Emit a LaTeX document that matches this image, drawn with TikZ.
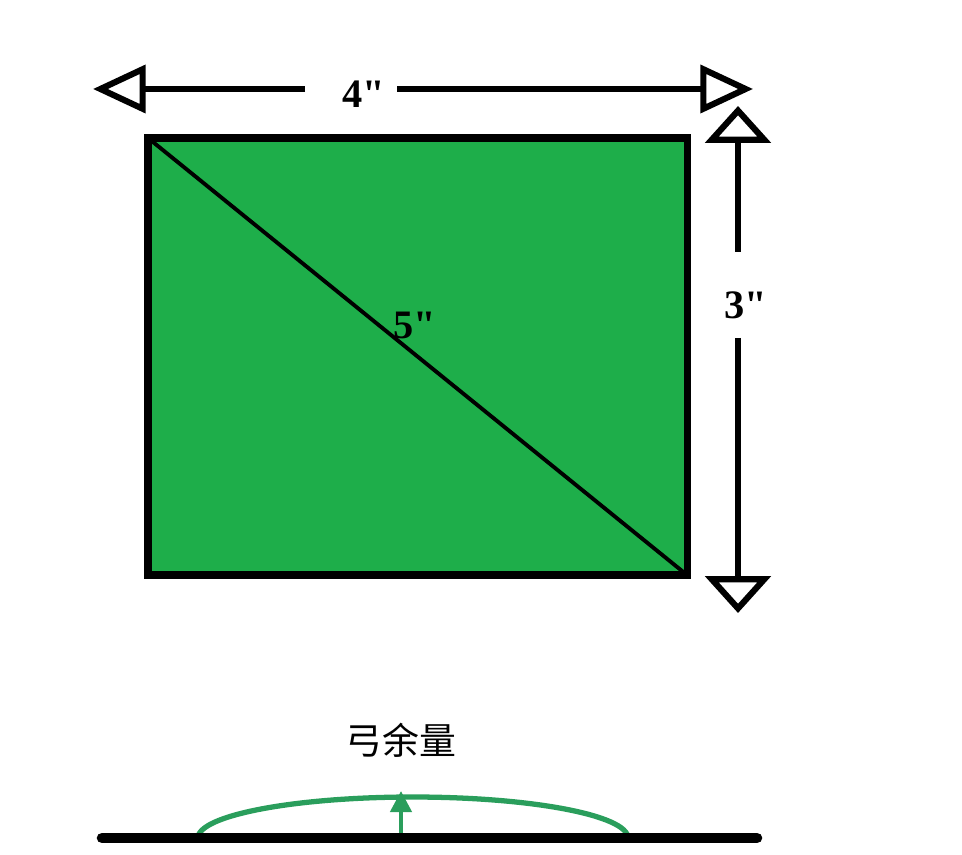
\documentclass[tikz,border=0pt]{standalone}
\usepackage{fontspec}
\setmainfont{Liberation Serif}
\newfontfamily\sizefont{Liberation Serif}[Ligatures=TeXOff]
\newfontfamily\cjk{Noto Sans CJK SC}
\usetikzlibrary{arrows.meta}
\definecolor{boardgreen}{RGB}{30,174,74}
\definecolor{bowgreen}{RGB}{42,158,92}

\begin{document}
\begin{tikzpicture}[x=0.02cm,y=-0.02cm,
    every node/.style={inner sep=0pt},
    size/.style={font=\sizefont\bfseries\fontsize{23}{27}\selectfont},
    dimline/.style={line width=3.5pt},
    harrow/.style={-{Triangle[open,length=30pt,width=27pt]}},
    varrow/.style={-{Triangle[open,length=21pt,width=37pt]}}
  ]
  \useasboundingbox (0,0) rectangle (962,854);

  % the board and its diagonal
  \coordinate (tl) at (148,138);
  \coordinate (br) at (687,575);
  \draw[line width=4pt, fill=boardgreen] (tl) rectangle (br);
  \draw[line width=2.2pt] (tl) -- (br);
  \node[size] (diag) at (415,325) {5"};

  % width
  \coordinate (wl) at (93,89);
  \coordinate (wr) at (753,89);
  \coordinate (wgl) at (305,89);
  \coordinate (wgr) at (397,89);
  \node[size] (w) at (364,94) {4"};
  \draw[dimline,harrow] (wgl) -- (wl);
  \draw[dimline,harrow] (wgr) -- (wr);

  % height
  \coordinate (ht) at (738,106);
  \coordinate (hb) at (738,613);
  \coordinate (hgt) at (738,252);
  \coordinate (hgb) at (738,338);
  \node[size] (h) at (746,305) {3"};
  \draw[dimline,varrow] (hgt) -- (ht);
  \draw[dimline,varrow] (hgb) -- (hb);

  % bow
  \node[font=\cjk\fontsize{21}{25}\selectfont] (bow) at (401,740) {弓余量};
  \coordinate (bl) at (198,838);
  \coordinate (bbase) at (401,838);
  \coordinate (btop) at (401,791);
  \draw[bowgreen, line width=3pt] (bl) arc[start angle=180, end angle=0, x radius=4.3cm, y radius=0.82cm];
  \draw[bowgreen, line width=2.5pt, -{Triangle[length=12pt,width=12pt]}] (bbase) -- (btop);
  \coordinate (gl) at (102,838);
  \coordinate (gr) at (757,838);
  \draw[line width=6pt, line cap=round] (gl) -- (gr);
\end{tikzpicture}
\end{document}
